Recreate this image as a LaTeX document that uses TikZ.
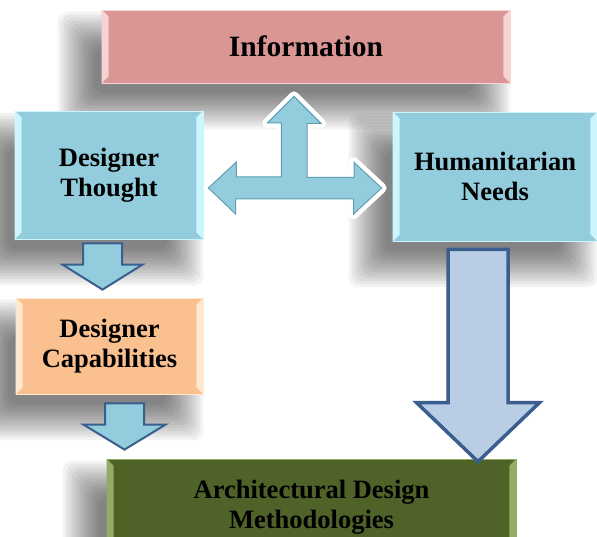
\documentclass[tikz,border=0pt]{standalone}
\usepackage{fontspec}
\setmainfont{Liberation Serif}
\usetikzlibrary{calc}

\pgfdeclarelayer{background}
\pgfsetlayers{background,main}

\definecolor{infofill}{HTML}{D99694}
\definecolor{infoedge}{HTML}{F6D4D3}
\definecolor{bluefill}{HTML}{93CDDD}
\definecolor{blueedge}{HTML}{CDF6FC}
\definecolor{bluedark}{HTML}{5E9FB4}
\definecolor{orangefill}{HTML}{FAC090}
\definecolor{orangeedge}{HTML}{FEE8CF}
\definecolor{greenfill}{HTML}{4F6228}
\definecolor{greenedge}{HTML}{93AC64}
\definecolor{arrowline}{HTML}{3A5F8E}
\definecolor{paleblue}{HTML}{B9CDE5}

\tikzset{
  box/.style={rectangle, inner sep=0pt, align=center, line width=0.8pt,
    font=\bfseries\fontsize{26.5}{30}\selectfont},
  infobox/.style={box, fill=infofill, draw=infoedge},
  bluebox/.style={box, fill=bluefill, draw=blueedge},
  orangebox/.style={box, fill=orangefill, draw=orangeedge},
  greenbox/.style={box, fill=greenfill, draw=greenedge},
  softshadow/.style={fill=black, opacity=0.048, rounded corners=10pt},
  downblock/.style={fill=bluefill, draw=arrowline, line width=2pt, line join=miter},
  bigblock/.style={fill=paleblue, draw=arrowline, line width=3.5pt, line join=miter},
  tblock/.style={fill=bluefill, draw=bluedark, line width=1pt, line join=miter,
    preaction={draw=white, line width=10pt, line join=round}},
}

% top, tip, shaft half width, head half width, head length
\newcommand{\downblock}[6][downblock]{%
  \draw[#1] ($(#2)+(-#4,0)$) -- ($(#2)+(#4,0)$) -- ($(#3)+(#4,-#6)$)
    -- ($(#3)+(#5,-#6)$) -- (#3) -- ($(#3)+(-#5,-#6)$)
    -- ($(#3)+(-#4,-#6)$) -- cycle;}

\begin{document}
\begin{tikzpicture}[x=1pt,y=-1pt]
    \useasboundingbox (0,0) rectangle (597,537);
    \clip (0,0) rectangle (597,537);

    \node[infobox, minimum width=408pt, minimum height=73pt,
      font=\bfseries\fontsize{29.5}{32}\selectfont] (info) at (306,46.5) {Information};
    \node[bluebox, minimum width=188pt, minimum height=128pt] (thought) at (109,175)
      {Designer\\Thought};
    \node[bluebox, minimum width=204pt, minimum height=129pt] (needs) at (495,176.5)
      {Humanitarian\\Needs};
    \node[orangebox, minimum width=187pt, minimum height=96pt] (capab) at (109.5,346)
      {Designer\\Capabilities};
    \node[greenbox, minimum width=409pt, minimum height=96pt] (method) at (311.5,507)
      {Architectural Design\\Methodologies};

    % soft shadows, down and to the left of each box
    \begin{pgfonlayer}{background}
      \fill[white] (0,0) rectangle (597,537);
      \foreach \n in {info,thought,needs,capab,method}
        \foreach \e in {-14,-11,...,22}
          \fill[softshadow] ($(\n.north west)+(-22-\e,24-\e)$)
            rectangle ($(\n.south east)+(-22+\e,24+\e)$);
    \end{pgfonlayer}

    % light bevels on the left and right edges
    \foreach \n/\c in {info/infoedge, thought/blueedge, needs/blueedge,
                       capab/orangeedge, method/greenedge} {
      \fill[\c] (\n.north west) -- ++(7pt,-7pt) -- ([shift={(7pt,7pt)}]\n.south west)
        -- (\n.south west) -- cycle;
      \fill[\c] (\n.north east) -- ++(-7pt,-7pt) -- ([shift={(-7pt,7pt)}]\n.south east)
        -- (\n.south east) -- cycle;
    }

    % ends of the block arrows
    \coordinate (a1) at ($(thought.south)+(-6.5,4)$);
    \coordinate (b1) at ($(capab.north)+(-7,-8)$);
    \coordinate (a2) at ($(capab.south)+(15,9)$);
    \coordinate (b2) at ($(method.north)+(-187,-9)$);
    \coordinate (a3) at ($(needs.south)+(-17,8)$);
    \coordinate (b3) at ($(method.north)+(166.5,3)$);

    \downblock{a1}{b1}{19.5}{40}{25}
    \downblock{a2}{b2}{19.5}{41}{25}
    \downblock[bigblock]{a3}{b3}{30}{61.5}{59}

    % three-way arrow between thought, needs and information
    \coordinate (lt) at ($(thought.east)+(5,13)$);
    \coordinate (rt) at ($(needs.west)+(-11,11.5)$);
    \coordinate (ut) at ($(info.south)+(-12,13)$);
    \draw[tblock] (lt) -- ++(28,-26) -- ++(0,15) -- ++(45,0) -- ++(0,-54)
      -- ++(-14,0) -- (ut) -- ++(27,27) -- ++(-14,0) -- ++(0,54)
      -- ++(47,0) -- ++(0,-15) -- (rt) -- ++(-28,26) -- ++(0,-15)
      -- ++(-118,0) -- ++(0,15) -- cycle;
\end{tikzpicture}
\end{document}
